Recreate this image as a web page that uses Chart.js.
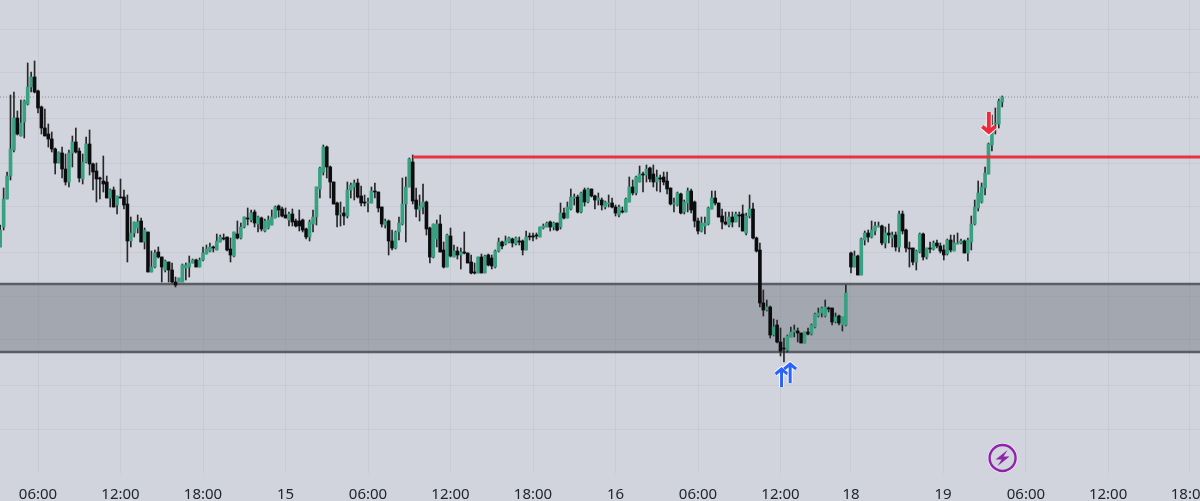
<!DOCTYPE html>
<html>
<head>
<meta charset="utf-8">
<title>Chart</title>
<script src="https://cdn.jsdelivr.net/npm/chart.js@4"></script>
<style>
    html, body { margin: 0; padding: 0; background: #d1d4dc; overflow: hidden; }
    canvas { display: block; }
</style>
</head>
<body>
<canvas id="myChart" width="1200" height="501"></canvas>
<script>
// candles (arbitrary price units, the price axis is cropped away)
const highs = [
    276,313,329,406,409,390,401,401,438,429, 440,411,395,392,377,369,353,349,354,347,
    351,365,373,353,347,364,371,338,338,324, 345,325,312,314,305,322,311,306,284,279,
    286,283,273,269,250,251,254,244,241,239, 238,224,223,237,238,245,242,242,243,254,
    256,258,255,267,266,267,264,263,269,280, 278,284,293,291,291,285,284,282,285,291,
    295,296,294,293,289,292,282,291,282,273, 281,291,314,334,356,355,335,319,299,299,
    294,319,318,321,322,315,306,303,314,318, 309,294,282,281,271,270,284,323,324,343,
    346,313,306,317,300,274,277,281,286,259, 267,273,256,254,253,269,248,246,238,244,
    247,246,247,246,251,263,260,265,264,263, 264,264,261,270,268,268,268,274,277,279,
    280,279,278,298,293,299,312,307,306,309, 313,313,312,306,308,303,300,306,303,296,
    296,294,303,324,321,325,335,329,336,334, 336,331,326,329,329,313,303,309,308,301,
    313,312,300,283,284,284,294,310,310,298, 292,289,289,289,289,289,296,288,306,298,
    264,258,211,201,195,182,181,173,163,166, 174,176,173,168,169,173,177,188,193,194,
    201,194,193,188,186,184,216,249,250,246, 263,270,271,280,279,279,276,274,277,269,
    269,290,290,272,259,253,251,268,268,253, 259,260,261,258,256,262,266,266,268,262,
    261,263,285,301,320,318,334,358,386,393,402,405
];
const lows = [
    254,271,302,321,349,366,365,363,396,409, 408,388,367,365,354,349,327,338,323,316,
    314,334,348,319,317,338,326,311,299,302, 309,303,294,294,287,303,292,239,254,264,
    268,259,252,229,229,233,243,219,229,219, 218,214,219,219,221,224,238,234,234,240,
    247,249,249,251,259,261,250,239,244,262, 262,273,276,279,274,269,270,269,272,276,
    283,284,284,283,275,275,274,270,269,262, 260,269,276,303,326,323,303,297,274,275,
    276,283,303,301,303,295,295,289,298,303, 289,274,273,246,251,252,261,276,259,314,
    297,284,280,287,266,238,243,254,249,233, 234,244,244,242,232,247,238,227,227,228,
    228,228,235,232,233,249,252,256,258,254, 256,256,246,251,261,260,262,264,272,274,
    270,271,270,272,282,283,291,296,288,288, 295,298,304,292,296,291,292,294,293,285,
    284,288,289,299,306,306,319,309,319,319, 314,310,309,316,307,296,289,295,287,287,
    289,288,274,267,269,267,276,292,296,284, 272,276,274,274,279,274,270,266,283,262,
    249,194,185,190,163,165,158,145,139,149, 164,164,159,158,158,166,166,173,184,184,
    184,189,176,178,176,170,175,228,234,226, 226,256,259,263,266,274,256,253,258,254,
    250,249,267,249,234,236,231,248,241,242, 248,251,253,248,241,246,249,250,257,257,
    248,240,251,276,290,298,306,327,350,367,373,394
];
const opens = [
    254,274,302,325,351,383,365,379,397,414, 424,410,394,373,367,362,352,338,348,332,
    319,348,359,350,322,339,357,337,330,323, 320,319,303,311,296,304,304,297,260,268,
    273,280,259,269,229,234,249,244,231,239, 231,219,219,219,233,234,238,241,234,241,
    247,250,254,251,259,263,264,252,245,267, 263,274,283,281,289,277,283,270,273,276,
    283,295,292,286,281,287,280,280,281,272, 264,277,284,312,329,354,334,319,298,287,
    288,285,311,314,318,305,299,298,298,310, 309,294,276,280,260,253,269,277,297,314,
    339,301,291,294,299,273,244,262,277,251, 234,265,244,250,246,249,248,239,229,228,
    244,228,246,243,234,250,259,257,259,262, 257,260,260,251,265,265,266,264,273,274,
    279,274,278,274,288,283,292,303,304,289, 311,299,312,305,301,301,294,297,298,294,
    286,290,289,299,314,308,319,327,326,333, 327,319,323,324,320,313,297,296,307,289,
    298,310,299,280,270,275,277,292,303,298, 285,279,276,284,279,286,287,268,285,292,
    263,251,198,191,194,166,176,159,153,151, 164,169,170,168,158,169,167,174,185,188,
    185,193,193,179,185,176,176,248,234,245, 226,261,268,264,270,274,275,258,268,263,
    266,254,287,271,253,253,239,249,267,244, 253,252,258,255,251,247,261,250,257,258,
    260,248,259,277,293,299,313,327,356,377,377,399
];
const closes = [
    271,302,325,352,383,367,378,400,414,424, 409,393,373,365,362,352,338,349,332,319,
    348,359,349,323,339,357,337,329,322,322, 317,303,311,294,305,303,296,260,268,279,
    279,259,271,229,234,248,244,234,240,231, 219,216,223,236,236,238,241,234,241,248,
    252,254,253,260,264,262,251,246,269,263, 274,284,282,288,278,284,272,280,281,284,
    294,291,285,283,287,279,275,275,271,264, 279,284,314,333,354,334,319,297,286,288,
    285,311,316,318,304,298,298,299,310,309, 293,277,280,260,253,269,278,297,314,342,
    300,292,295,299,272,244,277,277,249,234, 266,245,250,246,249,248,238,228,228,244,
    228,245,236,235,250,259,255,260,263,258, 263,259,251,264,264,264,265,274,275,278,
    274,278,271,288,283,294,304,304,289,308, 299,312,305,301,303,296,299,298,294,288,
    294,289,302,314,308,324,327,326,332,322, 319,324,322,319,312,297,298,308,288,299,
    310,291,280,270,278,278,293,303,298,284, 279,277,284,279,287,285,270,285,292,263,
    250,198,191,194,166,174,159,150,152,165, 169,171,168,158,169,167,176,187,188,193,
    194,192,179,184,178,184,208,234,245,226, 262,268,264,271,275,275,258,268,266,266,
    254,287,270,253,252,239,250,267,244,253, 252,258,255,250,246,261,251,258,258,260,
    248,261,277,294,308,314,328,357,371,378,400,404
];

// bars before this one are the old session, there is a small gap after it
const sessionBreak = 247;

// time axis, positions counted in 15 minute bars
const tickBars = [11, 35, 59, 83, 107, 131, 155, 179, 203, 227, 247.5, 274.3, 298.4, 322.3, 346.1];
const tickLabels = ['06:00', '12:00', '18:00', '15', '06:00', '12:00', '18:00', '16', '06:00', '12:00', '18', '19', '06:00', '12:00', '18:00'];

// price levels
const gridLevels = [472, 428, 383, 338, 294, 249, 205, 161, 116, 72];
const zoneTop = 217;
const zoneBottom = 149;
const resistance = 344;
const resistanceStartBar = 120;
const lastPrice = 404;

// markers
const upArrows = [
    { bar: 227.3, from: 114, to: 133 },
    { bar: 229.8, from: 118, to: 138 }
];
const downArrows = [{ bar: 287.6, from: 389, to: 368 }];
const boltMarker = { bar: 291.6, price: 43 };

const xMin = -0.058;
const xMax = 349.03;

const barX = (i) => (i < sessionBreak ? i : i + 0.5);

/**
 * Draw an arrow with a white halo, from tail to tip.
 */
function drawArrow(ctx, x, yTail, yTip, color, shaft, head) {
    const dir = yTip < yTail ? 1 : -1;
    const pass = (style, extra) => {
        ctx.strokeStyle = style;
        ctx.lineWidth = shaft + extra;
        ctx.lineCap = 'butt';
        ctx.lineJoin = 'miter';
        ctx.beginPath();
        ctx.moveTo(x, yTail);
        ctx.lineTo(x, yTip + dir);
        ctx.stroke();
        ctx.beginPath();
        ctx.moveTo(x - head, yTip + dir * head);
        ctx.lineTo(x, yTip + dir);
        ctx.lineTo(x + head, yTip + dir * head);
        ctx.stroke();
    };
    pass('rgba(255,255,255,0.9)', 2);
    pass(color, 0);
}

// the arrows and the lightning badge of the original are drawn on top of the datasets
const markerPlugin = {
    id: 'markers',
    afterDatasetsDraw(chart) {
        const ctx = chart.ctx;
        const x = chart.scales.x;
        const y = chart.scales.y;
        ctx.save();
        for (const a of upArrows) {
            drawArrow(ctx, x.getPixelForValue(a.bar), y.getPixelForValue(a.from), y.getPixelForValue(a.to), '#2962ff', 3, 6);
        }
        for (const a of downArrows) {
            drawArrow(ctx, x.getPixelForValue(a.bar), y.getPixelForValue(a.from), y.getPixelForValue(a.to), '#ee2a3c', 4, 6.5);
        }
        const bx = x.getPixelForValue(boltMarker.bar);
        const by = y.getPixelForValue(boltMarker.price);
        ctx.beginPath();
        ctx.arc(bx, by, 15, 0, Math.PI * 2);
        ctx.fillStyle = '#f3e6f5';
        ctx.fill();
        ctx.beginPath();
        ctx.arc(bx, by, 13, 0, Math.PI * 2);
        ctx.fillStyle = '#d1d4dc';
        ctx.fill();
        ctx.strokeStyle = '#8e24aa';
        ctx.lineWidth = 2.4;
        ctx.stroke();
        ctx.beginPath();
        ctx.moveTo(bx + 5, by - 8);
        ctx.lineTo(bx - 7, by + 1.5);
        ctx.lineTo(bx - 1, by + 1.5);
        ctx.lineTo(bx - 5, by + 8);
        ctx.lineTo(bx + 7, by - 1.5);
        ctx.lineTo(bx + 1, by - 1.5);
        ctx.closePath();
        ctx.fillStyle = '#8e24aa';
        ctx.fill();
        ctx.restore();
    }
};

const flatLine = (fromX, value) => [{ x: fromX, y: value }, { x: xMax, y: value }];

const ctx = document.getElementById('myChart').getContext('2d');
new Chart(ctx, {
    type: 'bar',
    plugins: [markerPlugin],
    data: {
        datasets: [
            // grey zone with its two borders
            {
                type: 'line',
                data: flatLine(xMin, zoneTop),
                borderColor: '#5a5d64',
                borderWidth: 2.5,
                pointRadius: 0,
                fill: { value: zoneBottom },
                backgroundColor: 'rgba(90,94,104,0.38)',
                order: 6
            },
            {
                type: 'line',
                data: flatLine(xMin, zoneBottom),
                borderColor: '#5a5d64',
                borderWidth: 2.5,
                pointRadius: 0,
                order: 6
            },
            // dotted last price line
            {
                type: 'line',
                data: flatLine(xMin, lastPrice),
                borderColor: '#8b8e96',
                borderWidth: 1,
                borderDash: [1, 2],
                pointRadius: 0,
                order: 5
            },
            // wicks
            {
                data: highs.map((h, i) => ({ x: barX(i), y: [lows[i], h] })),
                backgroundColor: '#26282c',
                barThickness: 1,
                grouped: false,
                order: 4
            },
            // bodies
            {
                data: opens.map((o, i) => ({ x: barX(i), y: [o, closes[i]] })),
                backgroundColor: opens.map((o, i) => (closes[i] >= o ? '#39a082' : '#0c0c0e')),
                barThickness: 3,
                minBarLength: 1,
                grouped: false,
                order: 3
            },
            // red level
            {
                type: 'line',
                data: flatLine(resistanceStartBar, resistance),
                borderColor: '#e8323f',
                borderWidth: 3,
                pointRadius: 0,
                order: 1
            }
        ]
    },
    options: {
        responsive: false,
        animation: false,
        layout: { padding: 0 },
        plugins: {
            legend: { display: false },
            tooltip: { enabled: false }
        },
        scales: {
            x: {
                type: 'linear',
                min: xMin,
                max: xMax,
                offset: false,
                grid: { offset: false, color: 'rgba(110,115,130,0.09)', drawTicks: false },
                border: { display: false },
                afterBuildTicks: (scale) => { scale.ticks = tickBars.map((value) => ({ value })); },
                afterFit: (scale) => {
                    // the last label hangs over the edge in the original, so no padding for it
                    scale.height = 28;
                    scale.paddingLeft = 0;
                    scale.paddingRight = 0;
                },
                ticks: {
                    autoSkip: false,
                    maxRotation: 0,
                    padding: 13,
                    color: '#20262e',
                    font: { family: 'Noto Sans', size: 15 },
                    callback: (value, index) => tickLabels[index]
                }
            },
            y: {
                type: 'linear',
                min: 28,
                max: 501,
                grid: { color: 'rgba(110,115,130,0.09)', drawTicks: false },
                border: { display: false },
                afterBuildTicks: (scale) => { scale.ticks = gridLevels.map((value) => ({ value })); },
                afterFit: (scale) => { scale.width = 0; },
                ticks: { display: false }
            }
        }
    }
});
</script>
</body>
</html>
